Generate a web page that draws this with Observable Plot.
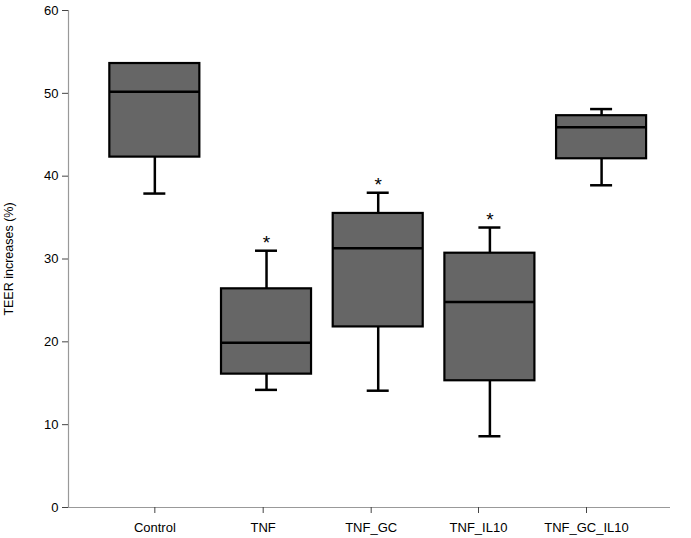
<!DOCTYPE html>
<html>
<head>
<meta charset="utf-8">
<script src="https://cdn.jsdelivr.net/npm/d3@7"></script>
<script src="https://cdn.jsdelivr.net/npm/@observablehq/plot@0.6"></script>
<style>
  html, body { margin: 0; padding: 0; background: #fff; }
  #chart svg { display: block; font-family: "Liberation Sans", Arial, sans-serif; }
</style>
</head>
<body>
<div id="chart"></div>
<script>
// Data
const groups = ["Control", "TNF", "TNF_GC", "TNF_IL10", "TNF_GC_IL10"];
const whiskerLow = [37.9, 14.2, 14.1, 8.6, 38.9];
const q1 = [42.3, 16.1, 21.8, 15.3, 42.1];
const median = [50.2, 19.9, 31.3, 24.8, 45.9];
const q3 = [53.6, 26.4, 35.5, 30.7, 47.3];
const whiskerHigh = [53.6, 31.0, 38.0, 33.8, 48.1];
const significant = [false, true, true, true, false];
// positions of category tick marks (the original axis ticks sit slightly off the box centers)
const tickPositions = [0, 0.970, 1.937, 2.898, 3.865];
const yTicks = [0, 10, 20, 30, 40, 50, 60];

const rows = groups.map((g, i) => ({
  group: g, i,
  lo: whiskerLow[i], q1: q1[i], med: median[i], q3: q3[i], hi: whiskerHigh[i],
  sig: significant[i]
}));

const halfBox = 0.403;
const halfCap = 0.0985;

const chart = Plot.plot({
  width: 691,
  height: 538,
  marginTop: 10,
  marginBottom: 31,
  marginLeft: 68,
  marginRight: 21,
  style: { fontFamily: "Liberation Sans, Arial, sans-serif", fontSize: "13px", color: "#000" },
  x: { type: "linear", domain: [-0.773, 4.617], axis: null },
  y: { domain: [0, 60], axis: null },
  marks: [
    // axes lines
    Plot.ruleY([0], { stroke: "#999", strokeWidth: 1.2 }),
    Plot.ruleX([-0.773], { y1: 0, y2: 60, stroke: "#999", strokeWidth: 1.2 }),
    // y ticks
    Plot.axisY(yTicks, { x: -0.773, tickSize: 6, tickPadding: 4, stroke: "#444", fontSize: 13, label: null, fill: "#000" }),
    // x ticks
    Plot.axisX(tickPositions, { tickSize: 6, tickPadding: 9, stroke: "#444", fontSize: 13, fill: "#000", label: null,
      tickFormat: (d) => groups[tickPositions.indexOf(d)] }),
    // whiskers
    Plot.ruleX(rows, { x: "i", y1: "lo", y2: "q1", stroke: "#000", strokeWidth: 2.5 }),
    Plot.ruleX(rows, { x: "i", y1: "q3", y2: "hi", stroke: "#000", strokeWidth: 2.5 }),
    Plot.ruleY(rows, { y: "lo", x1: (d) => d.i - halfCap, x2: (d) => d.i + halfCap, stroke: "#000", strokeWidth: 2.5 }),
    Plot.ruleY(rows.filter(d => d.hi > d.q3 + 0.05), { y: "hi", x1: (d) => d.i - halfCap, x2: (d) => d.i + halfCap, stroke: "#000", strokeWidth: 2.5 }),
    // boxes
    Plot.rect(rows, { x1: (d) => d.i - halfBox, x2: (d) => d.i + halfBox, y1: "q1", y2: "q3", fill: "#666", stroke: "#000", strokeWidth: 2.2 }),
    // medians
    Plot.ruleY(rows, { y: "med", x1: (d) => d.i - halfBox, x2: (d) => d.i + halfBox, stroke: "#000", strokeWidth: 2.5 }),
    // significance asterisks
    Plot.text(rows.filter(d => d.sig), { x: "i", y: "hi", text: () => "*", dy: -8, fontSize: 19, fill: "#000" }),
    // y label
    Plot.text(["TEER increases (%)"], { frameAnchor: "left", textAnchor: "middle", dx: -60, rotate: -90, fontSize: 12.5, fill: "#000" })
  ]
});
document.getElementById("chart").appendChild(chart);
</script>
</body>
</html>
